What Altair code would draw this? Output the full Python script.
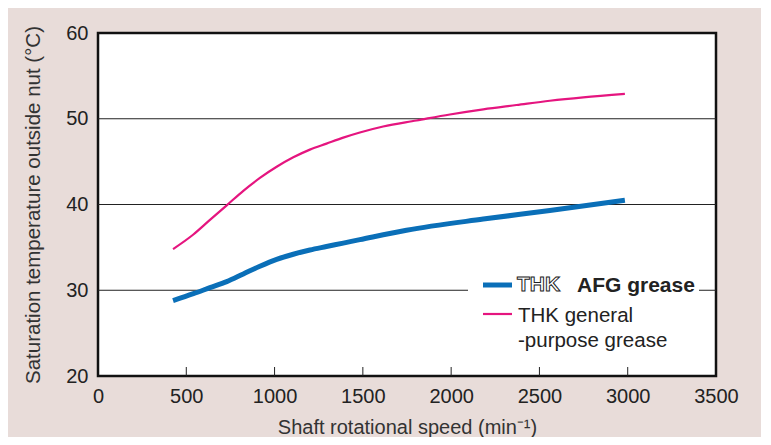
import altair as alt
import pandas as pd

# Data
afg_speed = [425, 540, 634, 729, 823, 917, 1012, 1106, 1200, 1294, 1389, 1483, 1747, 2182, 2559, 2984]
afg_temp = [28.8, 29.6, 30.3, 31.0, 31.9, 32.8, 33.6, 34.2, 34.7, 35.1, 35.5, 35.9, 37.0, 38.3, 39.3, 40.5]
gen_speed = [425, 540, 634, 729, 823, 917, 1012, 1106, 1200, 1294, 1389, 1483, 1615, 1804, 1993, 2182, 2370, 2559, 2748, 2984]
gen_temp = [34.8, 36.5, 38.2, 39.9, 41.6, 43.1, 44.4, 45.5, 46.4, 47.1, 47.8, 48.4, 49.1, 49.8, 50.5, 51.1, 51.6, 52.1, 52.5, 52.9]
series_names = ["AFG grease", "THK general-purpose grease"]
x_ticks = [0, 500, 1000, 1500, 2000, 2500, 3000, 3500]
inner_ticks = [500, 1000, 1500, 2000, 2500, 3000]
y_ticks = [20, 30, 40, 50, 60]
grid_vals = [30, 40, 50]

df = pd.DataFrame(
    {"speed": afg_speed + gen_speed,
     "temp": afg_temp + gen_temp,
     "series": [series_names[0]] * len(afg_speed) + [series_names[1]] * len(gen_speed)}
)

W, H = 618, 343
FONT = "Liberation Sans"
BLUE = "#0a6fb8"
PINK = "#e5157f"
TXT = "#222222"

xscale = alt.Scale(domain=[0, 3500], nice=False)
yscale = alt.Scale(domain=[20, 60], nice=False)

lines = alt.Chart(df).mark_line(interpolate="monotone").encode(
    x=alt.X("speed:Q", scale=xscale,
            axis=alt.Axis(values=x_ticks, format="d", title="Shaft rotational speed (min⁻¹)",
                          grid=False, domain=False, ticks=False, labelPadding=10,
                          labelFontSize=20, labelFont=FONT, labelColor=TXT,
                          titleFont=FONT, titleFontSize=20, titleFontWeight="normal",
                          titleColor="#333", titlePadding=11, labelFlush=False)),
    y=alt.Y("temp:Q", scale=yscale,
            axis=alt.Axis(values=y_ticks, title="Saturation temperature outside nut (°C)",
                          grid=False, domain=False, ticks=False, labelPadding=10,
                          labelFontSize=20, labelFont=FONT, labelColor=TXT,
                          titleFont=FONT, titleFontSize=20.5, titleFontWeight="normal",
                          titleColor="#333", titlePadding=22)),
    color=alt.Color("series:N", scale=alt.Scale(domain=series_names, range=[BLUE, PINK]), legend=None),
    strokeWidth=alt.StrokeWidth("series:N", scale=alt.Scale(domain=series_names, range=[5, 2.2]), legend=None),
)

grid = alt.Chart(pd.DataFrame({"g": grid_vals})).mark_rule(color=TXT, strokeWidth=1).encode(
    y=alt.Y("g:Q", scale=yscale)
)

ticks = alt.Chart(pd.DataFrame({"t": inner_ticks})).mark_rule(color=TXT, strokeWidth=1).encode(
    x=alt.X("t:Q", scale=xscale), y=alt.value(H), y2=alt.value(H - 9)
)

legend_box = alt.Chart(pd.DataFrame({"a": [0]})).mark_rect(color="white").encode(
    x=alt.value(370), x2=alt.value(601), y=alt.value(238), y2=alt.value(322)
)

leg_blue = alt.Chart(pd.DataFrame({"a": [0]})).mark_rule(color=BLUE, strokeWidth=5).encode(
    x=alt.value(385), x2=alt.value(414), y=alt.value(252)
)
leg_pink = alt.Chart(pd.DataFrame({"a": [0]})).mark_rule(color=PINK, strokeWidth=2.2).encode(
    x=alt.value(385), x2=alt.value(414), y=alt.value(281)
)

logo = alt.Chart(pd.DataFrame({"t": ["THK"]})).mark_text(
    font=FONT, fontSize=21, fontWeight="bold", fill="white", stroke=TXT,
    strokeWidth=1, align="left", baseline="middle"
).encode(text="t:N", x=alt.value(419), y=alt.value(252))

afg_label = alt.Chart(pd.DataFrame({"t": ["AFG grease"]})).mark_text(
    font=FONT, fontSize=21, fontWeight="bold", color=TXT, align="left", baseline="middle"
).encode(text="t:N", x=alt.value(479), y=alt.value(253))

gen_label1 = alt.Chart(pd.DataFrame({"t": ["THK general"]})).mark_text(
    font=FONT, fontSize=20.5, color=TXT, align="left", baseline="middle"
).encode(text="t:N", x=alt.value(420), y=alt.value(283))
gen_label2 = alt.Chart(pd.DataFrame({"t": ["-purpose grease"]})).mark_text(
    font=FONT, fontSize=20.5, color=TXT, align="left", baseline="middle"
).encode(text="t:N", x=alt.value(420), y=alt.value(308))

chart = alt.layer(
    grid, ticks, lines, legend_box, leg_blue, leg_pink, logo, afg_label, gen_label1, gen_label2
).properties(
    width=W, height=H,
    background="#e8dcd9",
    padding={"left": 90, "top": 25, "right": 45, "bottom": 61},
    autosize=alt.AutoSizeParams(type="none"),
).configure_view(
    fill="white", stroke="#111", strokeWidth=2.5
)

chart.save("out.html", embed_options={"renderer": "svg", "actions": False})
